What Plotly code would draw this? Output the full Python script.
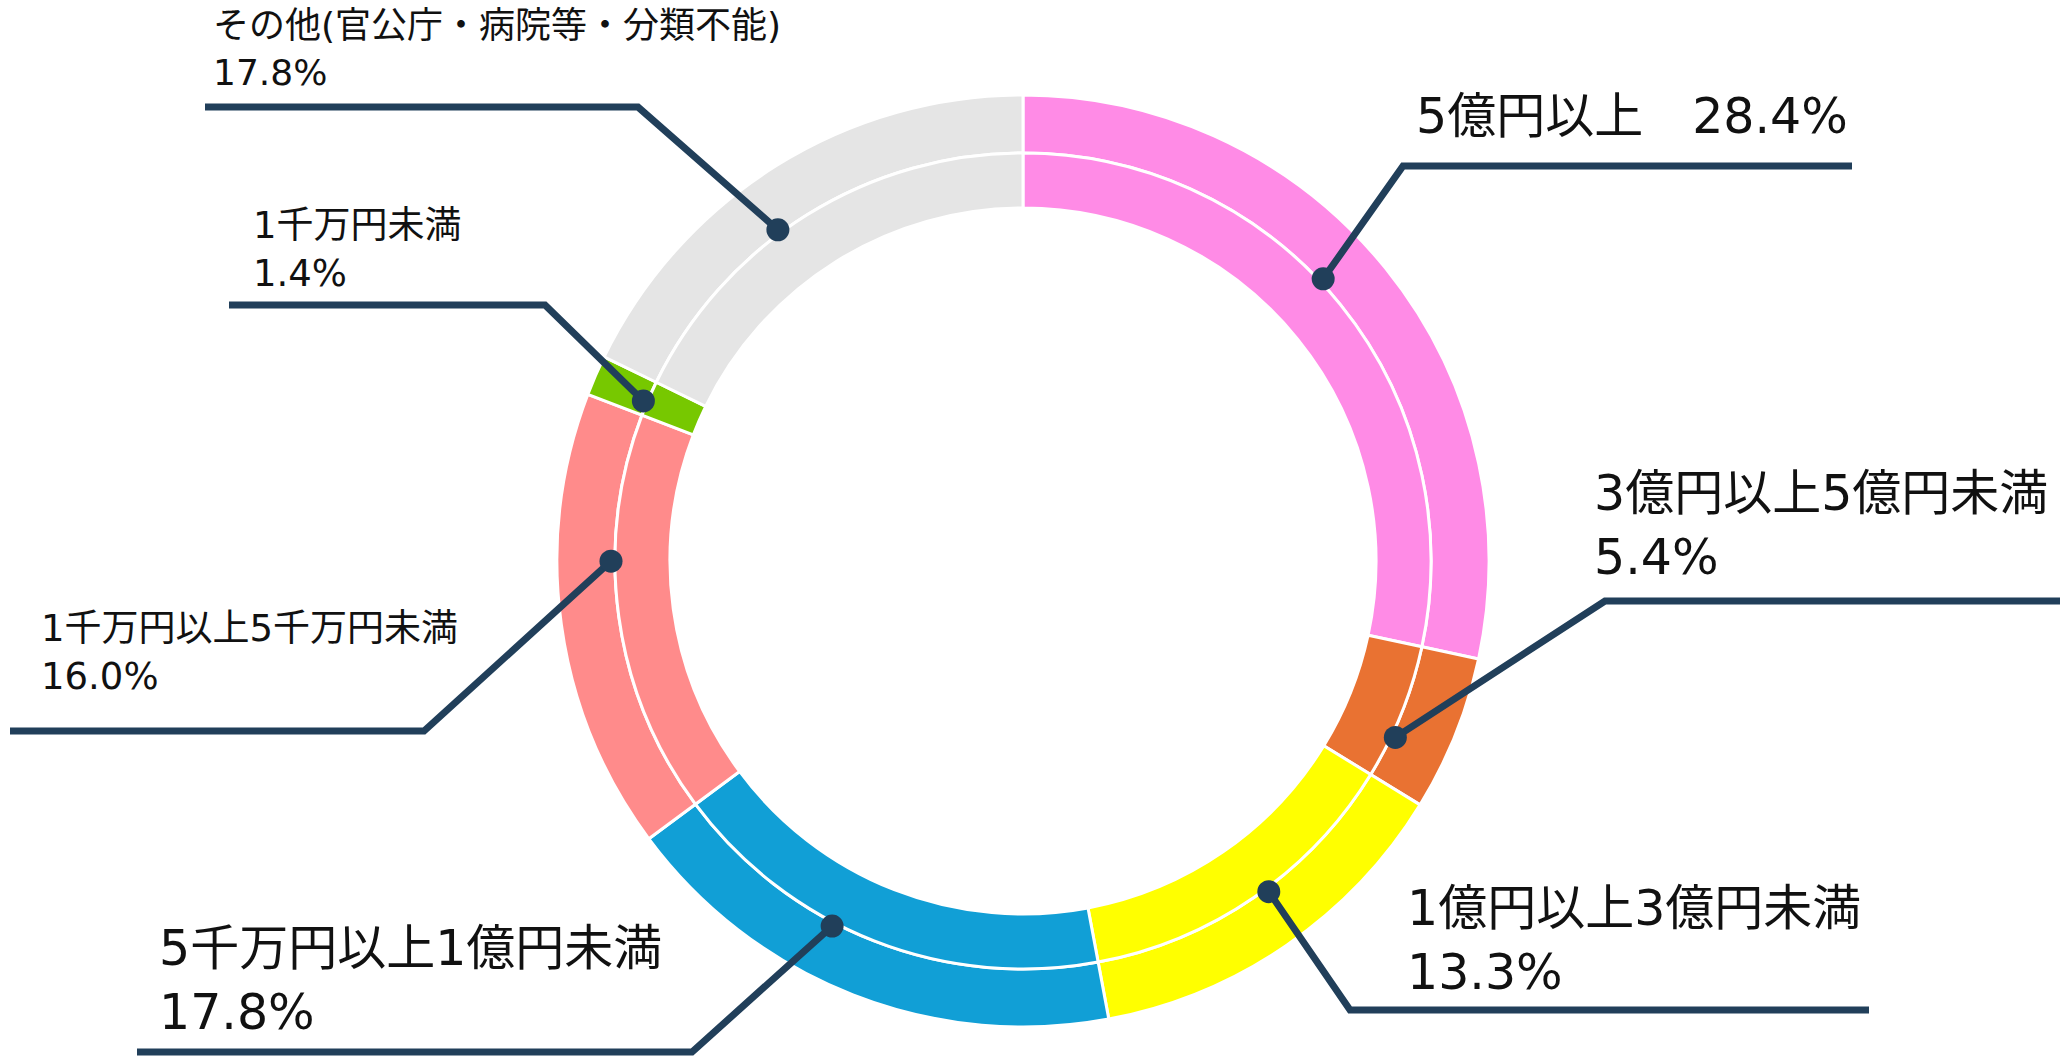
import math
import plotly.graph_objects as go

# ---------------- data ----------------
categories = [
    "5億円以上",
    "3億円以上5億円未満",
    "1億円以上3億円未満",
    "5千万円以上1億円未満",
    "1千万円以上5千万円未満",
    "1千万円未満",
    "その他(官公庁・病院等・分類不能)",
]
values = [28.4, 5.4, 13.3, 17.8, 16.0, 1.4, 17.8]
colors = ["#FF8BE6", "#E97232", "#FFFF00", "#119FD6", "#FF8B8B", "#77C800", "#E5E5E5"]

# ---------------- geometry (pixels) ----------------
W, H = 2071, 1059
CX, CY = 1023, 561
R_OUT, R_MID, R_IN = 466, 408, 353
NAVY = "#213F5A"
TEXT = "#111111"
FONT = "DejaVu Sans, Noto Sans CJK JP"


def px(x):
    return x / W


def py(y):
    return 1 - y / H


def domain(r):
    return dict(x=[px(CX - r), px(CX + r)], y=[py(CY + r), py(CY - r)])


fig = go.Figure()
for r_outer, hole in [(R_OUT, R_MID / R_OUT), (R_MID, R_IN / R_MID)]:
    fig.add_trace(go.Pie(
        labels=categories, values=values, sort=False, direction="clockwise",
        rotation=0, hole=hole, domain=domain(r_outer),
        marker=dict(colors=colors, line=dict(color="white", width=3)),
        textinfo="none", hoverinfo="label+percent", showlegend=False,
    ))

# ---------------- label layout ----------------
# per slice: font size, text left x, block center y, line start x, elbow (x, y),
# anchor-angle nudge (deg)
label_layout = [
    dict(size=49, tx=1414, ty=117, lx=1852, elbow=(1403, 166), nudge=-4.3, single=True),
    dict(size=49, tx=1592, ty=525, lx=2060, elbow=(1605, 601), nudge=3.5),
    dict(size=49, tx=1405, ty=940, lx=1869, elbow=(1350, 1010), nudge=-2.1),
    dict(size=49, tx=157, ty=980, lx=137, elbow=(692, 1052), nudge=6.2),
    dict(size=37, tx=39, ty=652, lx=10, elbow=(424, 731), nudge=7.8),
    dict(size=37, tx=251, ty=249, lx=229, elbow=(545, 305), nudge=-0.6),
    dict(size=36, tx=211, ty=49, lx=205, elbow=(638, 107), nudge=-4.5),
]

total = sum(values)
cum = 0.0
shapes, annotations = [], []
for cat, val, lay in zip(categories, values, label_layout):
    mid = (cum + val / 2) / total * 360 + lay["nudge"]
    cum += val
    a = math.radians(mid)
    r_dot = 412
    dx = CX + r_dot * math.sin(a)
    dy = CY - r_dot * math.cos(a)
    ex, ey = lay["elbow"]
    path = f"M {px(lay['lx'])},{py(ey)} L {px(ex)},{py(ey)} L {px(dx)},{py(dy)}"
    shapes.append(dict(type="path", path=path, xref="paper", yref="paper",
                       line=dict(color=NAVY, width=7), layer="above"))
    shapes.append(dict(type="circle", xref="paper", yref="paper",
                       xsizemode="pixel", ysizemode="pixel",
                       xanchor=px(dx), yanchor=py(dy),
                       x0=-11.5, x1=11.5, y0=-11.5, y1=11.5,
                       fillcolor=NAVY, line=dict(width=0), layer="above"))
    pct = f"{val:.1f}%"
    text = f"{cat}\u3000{pct}" if lay.get("single") else f"{cat}<br>{pct}"
    annotations.append(dict(
        text=text, x=px(lay["tx"]), y=py(lay["ty"]), xref="paper", yref="paper",
        xanchor="left", yanchor="middle", align="left", showarrow=False,
        font=dict(family=FONT, size=lay["size"], color=TEXT),
    ))

fig.update_layout(
    width=W, height=H, margin=dict(l=0, r=0, t=0, b=0),
    paper_bgcolor="white", plot_bgcolor="white",
    shapes=shapes, annotations=annotations,
    font=dict(family=FONT),
)

fig.write_html("out.html", config={"displayModeBar": False})
